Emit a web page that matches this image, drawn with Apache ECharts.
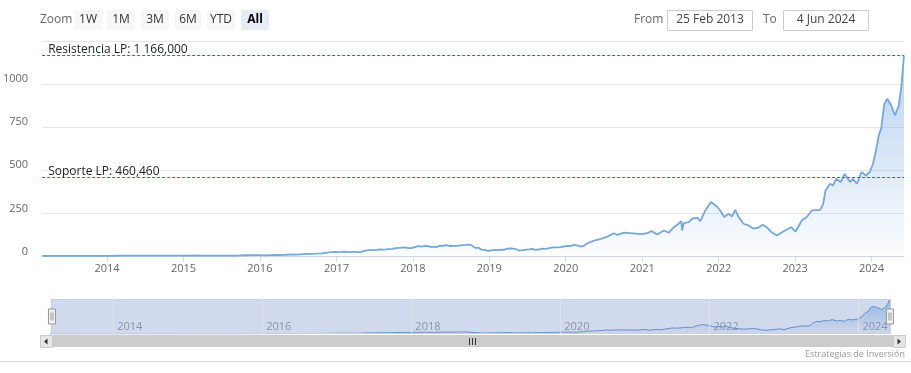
<!DOCTYPE html>
<html><head><meta charset="utf-8">
<script src="https://cdn.jsdelivr.net/npm/echarts@6/dist/echarts.min.js"></script>
<style>html,body{margin:0;padding:0;background:#fff}#c{width:911px;height:373px}</style>
</head><body><div id="c"></div>
<script>
// ---- data ----
const dates = [
'2013-02-25','2013-03-25','2013-04-25','2013-05-25','2013-06-25','2013-07-25','2013-08-25','2013-09-25','2013-10-25','2013-11-25','2013-12-25',
'2014-01-25','2014-02-25','2014-03-25','2014-04-25','2014-05-25','2014-06-25','2014-07-25','2014-08-25','2014-09-25','2014-10-25','2014-11-25','2014-12-25',
'2015-01-25','2015-02-25','2015-03-25','2015-04-25','2015-05-25','2015-06-25','2015-07-25','2015-08-25','2015-09-25','2015-10-25','2015-11-25','2015-12-25',
'2016-01-25','2016-02-25','2016-03-25','2016-04-25','2016-05-25','2016-06-25','2016-07-25','2016-08-25','2016-09-25','2016-10-25','2016-11-25','2016-12-25',
'2017-01-10','2017-01-25','2017-02-10','2017-02-25','2017-03-10','2017-03-25','2017-04-10','2017-04-25','2017-05-10','2017-05-25','2017-06-10','2017-06-25',
'2017-07-10','2017-07-25','2017-08-10','2017-08-25','2017-09-10','2017-09-25','2017-10-10','2017-10-25','2017-11-10','2017-11-25','2017-12-10','2017-12-25',
'2018-01-10','2018-01-25','2018-02-10','2018-02-25','2018-03-10','2018-03-25','2018-04-10','2018-04-25','2018-05-10','2018-05-25','2018-06-10','2018-06-25',
'2018-07-10','2018-07-25','2018-08-10','2018-08-25','2018-09-10','2018-09-25','2018-10-05','2018-10-25','2018-11-10','2018-11-25','2018-12-10','2018-12-25',
'2019-01-10','2019-01-25','2019-02-10','2019-02-25','2019-03-10','2019-03-25','2019-04-10','2019-04-25','2019-05-10','2019-05-25','2019-06-10','2019-06-25',
'2019-07-10','2019-07-25','2019-08-10','2019-08-25','2019-09-10','2019-09-25','2019-10-10','2019-10-25','2019-11-10','2019-11-25','2019-12-10','2019-12-25',
'2020-01-10','2020-01-25','2020-02-10','2020-02-18','2020-02-28','2020-03-13','2020-03-18','2020-03-28','2020-04-14','2020-05-15','2020-06-17','2020-07-18',
'2020-08-19','2020-09-04','2020-10-06','2020-11-06','2020-12-01','2020-12-28',
'2021-01-24','2021-02-14','2021-03-13','2021-04-14','2021-05-08','2021-06-01','2021-06-24','2021-07-06','2021-07-10','2021-07-18','2021-08-11','2021-08-27',
'2021-09-20','2021-10-05','2021-10-29','2021-11-25','2021-12-04','2021-12-23',
'2022-01-08','2022-01-27','2022-02-17','2022-03-05','2022-03-21','2022-04-06','2022-04-29','2022-05-23','2022-06-16','2022-07-09','2022-07-30','2022-08-18',
'2022-09-10','2022-10-05','2022-10-12','2022-11-14','2022-12-13',
'2023-01-02','2023-02-03','2023-02-24','2023-03-22','2023-05-01','2023-05-15','2023-05-26','2023-06-17','2023-07-01','2023-07-16','2023-08-07','2023-08-25',
'2023-09-20','2023-10-04','2023-10-23','2023-11-14','2023-12-05','2023-12-24',
'2024-01-08','2024-01-22','2024-02-06','2024-02-16','2024-03-02','2024-03-16','2024-04-04','2024-04-22','2024-05-10','2024-05-22','2024-06-04'
];
const prices = [
3.1,3.2,3.3,3.6,3.5,3.6,3.8,3.9,3.8,3.9,4.0,
4.2,4.5,4.6,4.6,4.8,4.7,4.5,4.7,4.6,4.6,5.1,5.0,
5.1,5.7,5.3,5.5,5.5,5.1,5.0,5.4,6.1,7.2,8.0,8.3,
7.0,7.9,8.8,9.0,11.6,11.4,14.0,15.6,16.3,17.6,23.5,26.5,
25.8,26.5,28.0,25.5,26.3,27.0,24.8,26.0,30.5,35.5,37.0,37.5,
39.0,41.5,40.0,41.0,43.0,44.5,48.0,49.5,52.0,53.5,48.5,48.5,
55.0,60.5,57.0,60.0,62.0,56.0,55.5,55.0,63.0,62.0,66.0,61.0,
62.0,61.5,63.5,66.5,67.0,68.5,68.0,50.0,50.5,40.0,38.0,32.0,
36.0,38.5,36.5,40.0,38.5,44.0,46.5,45.5,42.0,34.5,36.5,40.0,
41.0,44.0,39.0,40.5,45.0,44.0,47.5,51.0,53.0,52.5,54.0,59.0,
62.0,61.0,67.0,71.0,63.0,57.0,49.0,62.0,77.0,92.0,102.0,115.0,
135.0,125.0,138.0,135.0,133.0,130.0,
135.0,148.0,127.0,151.0,138.0,170.0,190.0,205.0,151.0,194.0,199.0,219.0,
225.0,205.0,267.0,316.0,310.0,290.0,
267.0,229.0,248.0,232.0,271.0,229.0,190.0,180.0,161.0,167.0,184.0,170.0,
141.0,122.0,118.0,151.0,170.0,
144.0,210.0,228.0,267.0,271.0,305.0,383.0,422.0,412.0,451.0,432.0,480.0,
432.0,451.0,422.0,490.0,470.0,490.0,
538.0,615.0,711.0,740.0,885.0,915.0,876.0,818.0,876.0,983.0,1166.0
];
const yTicks = [0, 250, 500, 750, 1000];
const yearTicks = [2014,2015,2016,2017,2018,2019,2020,2021,2022,2023,2024];
const navYearTicks = [2014,2016,2018,2020,2022,2024];
const resistanceValue = 1166;
const resistanceLabel = 'Resistencia LP: 1 166,000';
const supportValue = 460.46;
const supportLabel = 'Soporte LP: 460,460';
const zoomButtons = ['1W','1M','3M','6M','YTD','All'];
const fromText = '25 Feb 2013';
const toText = '4 Jun 2024';
const creditText = 'Estrategias de Inversión';

// ---- chart ----
const FONT = '"Open Sans", "Noto Sans", sans-serif';
const chart = echarts.init(document.getElementById('c'), null, {renderer: 'canvas'});
const toTs = s => { const p = s.split('-').map(Number); return Date.UTC(p[0], p[1]-1, p[2]); };
const seriesData = dates.map((d, i) => [toTs(d), prices[i]]);
const ts = y => Date.UTC(y, 0, 1);
const yearFmt = v => String(new Date(v + 86400000).getUTCFullYear());
const xMin = toTs('2013-02-25');
const xMax = toTs('2024-06-04');

const graphics = [];
graphics.push({type:'text', x:40, y:20, style:{text:'Zoom', fill:'#666', font:'12px '+FONT, verticalAlign:'middle'}});
const btnX = [74,107,141,174,207,241];
zoomButtons.forEach((b, i) => {
  const sel = b === 'All';
  graphics.push({type:'rect', shape:{x:btnX[i], y:10, width:28, height:20, r:2}, style:{fill: sel ? '#e6ebf5' : '#f7f7f7'}});
  graphics.push({type:'text', x:btnX[i]+14, y:20, style:{text:b, fill: sel ? '#000' : '#333', font:(sel?'bold ':'')+'12px '+FONT, align:'center', verticalAlign:'middle'}});
});
graphics.push({type:'text', x:634, y:20, style:{text:'From', fill:'#666', font:'12px '+FONT, verticalAlign:'middle'}});
graphics.push({type:'rect', shape:{x:667.5, y:10.5, width:85, height:20}, style:{fill:'#fff', stroke:'#cccccc'}});
graphics.push({type:'text', x:710, y:20, style:{text:fromText, fill:'#444', font:'12px '+FONT, align:'center', verticalAlign:'middle'}});
graphics.push({type:'text', x:763, y:20, style:{text:'To', fill:'#666', font:'12px '+FONT, verticalAlign:'middle'}});
graphics.push({type:'rect', shape:{x:783.5, y:10.5, width:85, height:20}, style:{fill:'#fff', stroke:'#cccccc'}});
graphics.push({type:'text', x:826, y:20, style:{text:toText, fill:'#444', font:'12px '+FONT, align:'center', verticalAlign:'middle'}});
// scrollbar
graphics.push({type:'rect', shape:{x:40, y:335, width:865, height:12}, style:{fill:'#f2f2f2'}});
graphics.push({type:'rect', shape:{x:52, y:335, width:841, height:12}, style:{fill:'#cccccc'}});
graphics.push({type:'rect', shape:{x:40.5, y:335.5, width:12, height:12}, style:{fill:'#e6e6e6', stroke:'#cccccc'}});
graphics.push({type:'polygon', shape:{points:[[47.5,338.5],[44,341.5],[47.5,344.5]]}, style:{fill:'#333'}});
graphics.push({type:'rect', shape:{x:893.5, y:335.5, width:12, height:12}, style:{fill:'#e6e6e6', stroke:'#cccccc'}});
graphics.push({type:'polygon', shape:{points:[[897.5,338.5],[901,341.5],[897.5,344.5]]}, style:{fill:'#333'}});
[469.5, 472.5, 475.5].forEach(x => graphics.push({type:'line', shape:{x1:x, y1:338, x2:x, y2:345}, style:{stroke:'#333', lineWidth:1}}));
// credits and bottom rule
graphics.push({type:'text', x:905, y:354, style:{text:creditText, fill:'#999', font:'9px '+FONT, align:'right', verticalAlign:'middle'}});
graphics.push({type:'line', shape:{x1:0, y1:361.5, x2:911, y2:361.5}, style:{stroke:'#d0d0d0', lineWidth:1}});

const option = {
  animation: false,
  textStyle: {fontFamily: FONT},
  grid: [
    {left: 40, right: 7, top: 41, height: 215.5},
    {left: 50, right: 21, top: 299, height: 35}
  ],
  xAxis: [
    {type:'value', gridIndex:0, min:xMin, max:xMax, scale:true,
     axisLine:{lineStyle:{color:'#ccd6eb'}},
     axisTick:{show:true, length:5, lineStyle:{color:'#ccd6eb'}, customValues: yearTicks.map(ts)},
     axisLabel:{color:'#666', fontSize:11, margin:7, customValues: yearTicks.map(ts), formatter: yearFmt},
     splitLine:{show:false}},
    {type:'value', gridIndex:1, min:xMin, max:xMax, scale:true,
     axisLine:{show:false}, axisTick:{show:false}, splitLine:{show:false},
     axisLabel:{inside:true, color:'#999', fontSize:11, margin:2, align:'left', padding:[0,0,0,4],
                customValues: navYearTicks.map(ts), formatter: yearFmt}}
  ],
  yAxis: [
    {type:'value', gridIndex:0, min:0, max:1250, interval:250,
     axisLine:{show:false}, axisTick:{show:false},
     axisLabel:{color:'#666', fontSize:11, margin:14, verticalAlign:'bottom', lineHeight:10,
                formatter: v => yTicks.includes(v) ? String(v) : ''},
     splitLine:{lineStyle:{color:'#e6e6e6'}}},
    {type:'value', gridIndex:1, min:0, max:'dataMax', show:false}
  ],
  dataZoom: [{
    type:'slider', xAxisIndex:[0,1], filterMode:'none', start:0, end:100,
    left:50, right:21, top:299, height:35,
    showDataShadow:false, showDetail:false, brushSelect:false,
    backgroundColor:'rgba(0,0,0,0)', fillerColor:'rgba(102,133,194,0.3)',
    borderColor:'#c9d0dc',
    moveHandleSize:0,
    handleIcon:'path://M0.5,0.5 L7.5,0.5 L7.5,15.5 L0.5,15.5 Z M3,4 L3,12 M5,4 L5,12',
    handleSize:'43%',
    handleStyle:{color:'#f2f2f2', borderColor:'#999', borderWidth:1},
    emphasis:{handleStyle:{color:'#f2f2f2', borderColor:'#999'}}
  }],
  series: [
    {type:'line', xAxisIndex:0, yAxisIndex:0, data:seriesData, showSymbol:false, symbol:'none',
     lineStyle:{color:'#74a8dc', width:1.8},
     areaStyle:{color:new echarts.graphic.LinearGradient(0,0,0,1,[
        {offset:0, color:'rgba(110,165,225,0.72)'},
        {offset:1, color:'rgba(110,165,225,0.03)'}])},
     markLine:{silent:true, symbol:'none', animation:false,
       label:{position:'insideStartTop', color:'#222', fontSize:12, distance:[6,0]},
       data:[
         {yAxis:resistanceValue, lineStyle:{color:'#2e8540', type:[3,2], width:1}, label:{formatter:resistanceLabel}},
         {yAxis:supportValue, lineStyle:{color:'#c0392b', type:[3,2], width:1}, label:{formatter:supportLabel}}
       ]}},
    {type:'line', xAxisIndex:1, yAxisIndex:1, data:seriesData, showSymbol:false, symbol:'none',
     lineStyle:{color:'#5f95d0', width:1},
     areaStyle:{color:new echarts.graphic.LinearGradient(0,0,0,1,[
        {offset:0, color:'rgba(90,150,220,0.7)'},
        {offset:1, color:'rgba(90,150,220,0.05)'}])},
     markLine:{silent:true, symbol:'none', animation:false, label:{show:false},
       lineStyle:{color:'#e2e2e2', type:'solid', width:1},
       data: navYearTicks.map(y => ({xAxis: ts(y)}))}}
  ],
  graphic: graphics
};
chart.setOption(option);
</script>
</body></html>
